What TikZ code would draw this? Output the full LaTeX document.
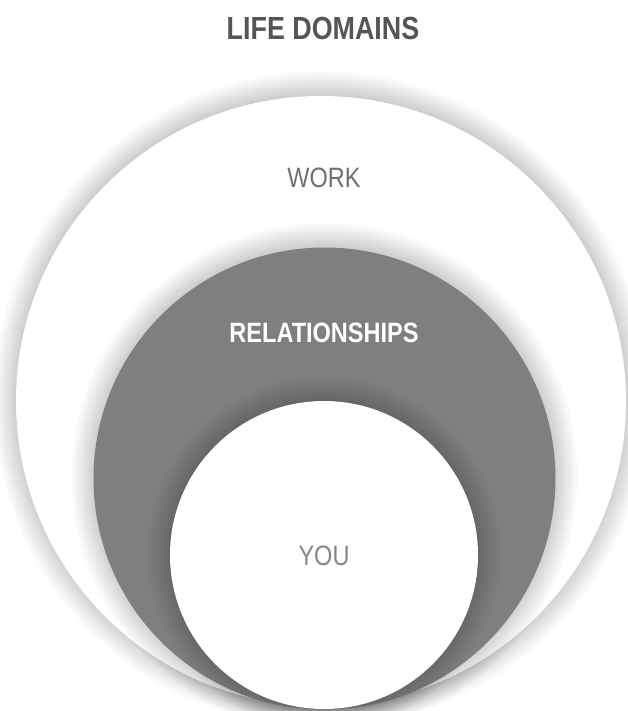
\documentclass[tikz,border=0pt]{standalone}
\usepackage{fontspec}
\setmainfont{Liberation Sans}
\newfontfamily\condfont[FakeStretch=0.84]{Liberation Sans}
\usepackage{tikz}

\definecolor{relgray}{HTML}{7F7F7F}
\definecolor{titlegray}{HTML}{555555}
\definecolor{labelgray}{HTML}{707070}

% soft glow round a circle: centre, radius
\newcommand{\softshadow}[2]{%
  \foreach \k in {0,...,23}
    \fill[black,opacity=0.009] ([yshift=2pt]#1) circle[radius=#2+\k pt];}

\begin{document}
\begin{tikzpicture}[x=1pt,y=-1pt,
    domaincircle/.style={circle,inner sep=0pt},
    domaintext/.style={text=labelgray,font=\condfont\fontsize{28}{28}\selectfont},
    every node/.style={inner sep=0pt}]
  \useasboundingbox (0,0) rectangle (628,711);
  \fill[white] (0,0) rectangle (628,711);
  \coordinate (workc) at (321,401);
  \coordinate (relationsc) at (324.5,478.5);
  \coordinate (youc) at (324,555);
  % the three domains, all touching at the bottom
  \softshadow{workc}{305pt}
  \node[domaincircle,fill=white,minimum size=610pt] (work) at (workc) {};
  \softshadow{relationsc}{231pt}
  \node[domaincircle,fill=relgray,minimum size=462pt] (relations) at (relationsc) {};
  \softshadow{youc}{154pt}
  \node[domaincircle,fill=white,minimum size=308pt] (you) at (youc) {};
  % texts
  \node[text=titlegray,font=\condfont\bfseries\fontsize{32}{32}\selectfont] (title) at (323,28) {LIFE DOMAINS};
  \node[domaintext] (worktext) at (324,178) {WORK};
  \node[domaintext,text=white,font=\condfont\bfseries\fontsize{28}{28}\selectfont] (relationstext) at (324,333) {RELATIONSHIPS};
  \node[domaintext,text=labelgray!85] (youtext) at (324,556) {YOU};
\end{tikzpicture}
\end{document}
